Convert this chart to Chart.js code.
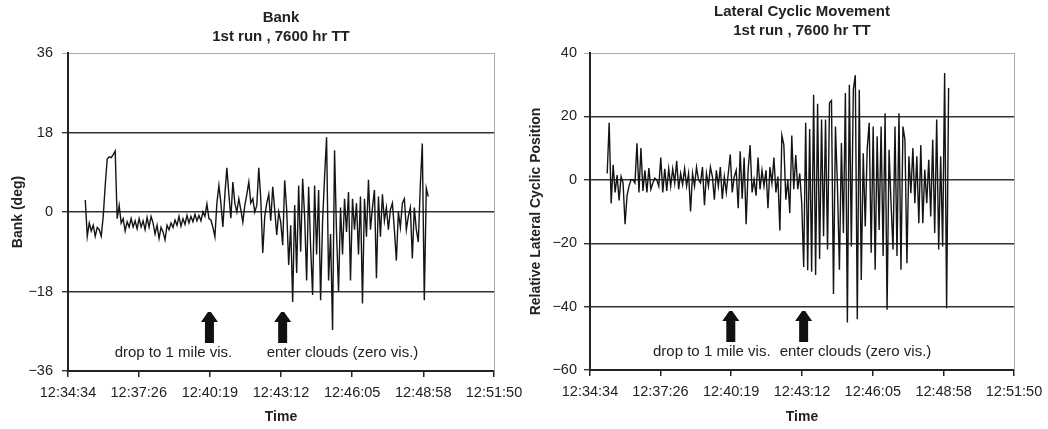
<!DOCTYPE html>
<html>
<head>
<meta charset="utf-8">
<script src="https://cdn.jsdelivr.net/npm/chart.js@4.4.1/dist/chart.umd.min.js"></script>
<style>
  body { margin: 0; background: #fff; }
  .panel { position: absolute; top: 0; width: 524px; height: 429px; }
  #left { left: 0; }
  #right { left: 524px; }
</style>
</head>
<body>
<div class="panel" id="left"><canvas id="bankChart" width="524" height="429"></canvas></div>
<div class="panel" id="right"><canvas id="cyclicChart" width="524" height="429"></canvas></div>
<script>
// time axis tick labels (shared by both panels)
const timeTicks = ['12:34:34', '12:37:26', '12:40:19', '12:43:12', '12:46:05', '12:48:58', '12:51:50'];

// samples start here and are evenly spaced (seconds)
const sampleStart = '12:35:16';
const sampleStep = 4.85;

// bank angle, deg
const bankValues = [
  2.7, -5.5, -2.5, -4.3, -3, -5.5, -3.5, -4, -5.5, -1,
  6, 12, 12.5, 12.3, 13, 13.8, -1.5, 1.5, -2.5, -1.5,
  -4.3, -2.2, -3.4, -1.5, -3.4, -2, -3.8, -1.5, -3.4, -2,
  -4, -1.2, -3.4, -1, -2.5, -5, -3, -6, -3.5, -4.5,
  -6.3, -3, -4, -2.5, -3.5, -1.8, -3, -1, -3.2, -1.5,
  -2.8, -0.8, -2.5, -1, -2.2, -0.5, -2, -0.8, -2, 0,
  -1, 1.8, -1.5, -1.8, -3.5, -5.6, 2, 6, 2, -3.4,
  4, 10, 4, -1.4, 6.8, 2, 0, 3, 0.5, -2.3,
  1.5, 4, 6.8, 2, 3, 0, 1.5, 10, 3, -9.3,
  -1, 2, 4, -2, 5.7, 0.5, -5.2, 0, -2.3, -7.5,
  7.2, 0.5, -12, -3, -20.4, 1.6, -13.8, 6, -9, 7.5,
  -1, -15.5, 5.7, -8, -18.8, 6, -9.6, 5, -20, -2,
  8, 16.9, -15.5, -5, -26.7, 14, -5, -18, 1, -9.6,
  3, -4.5, 4.5, -15.5, 3, -4, 2, -9.6, 3.5, -20.7,
  3, -5.6, 7.3, -4, 1, 5, -15, 3.5, -5.6, 4,
  -2, 1, -4, 0.5, 2, -4, -11, 0, -3.5, 2,
  3, -4, -1, 1, -10.5, 1, -4, -6.8, 6, 15.5,
  -20, 5.4, 3.5
];

// relative lateral cyclic position
const cyclicValues = [
  2, 18, -7.5, 4.7, -4, 1.5, -6.5, 1, -1, -14,
  -5, -2, 0, 0, -1, 11.5, -4, 10, -3.5, 3,
  -4, 3.7, -3, -1, 0.5, 0, -2, 7, -4, 3.5,
  -3.5, 3.5, -2, 3.5, -1, 6, -3, 2, -1.5, 3.5,
  -2, 2, -10, 2, -2, 4, 0, -1, 4, -8,
  2, -2, 4, 1, -6.3, 3, -2, 4, -6, 1,
  -4, 2, 8, -4, 1, 3, -9, 9, -6, 7,
  -14, 3, 11, -4, 0, -5, 7, -3, 3, -2,
  3, -9, 4, -1, 7, -4, 1, -16, 14, 11,
  -6.3, 0, -10.5, 14, -3, 7.8, -3, 2, -7.3, -27.5,
  18, -28.5, 16, -29, 26.8, -30, 24, -25, 19, -17.8,
  19, -22, 24.3, 25, -36, 16.8, -2, -28.4, 11.6, -16.8,
  27.4, -45, 30, -21, 28.4, 33, -44, 28.4, -31.6, 8.4,
  -14.7, 10, 18, -23, 16.8, -28.4, 13.7, -15.8, 16.8, -24,
  21, -41, 9.5, -7.4, -22, 16.8, -24, 21, -28.4, 16.8,
  12.6, -26.3, 7.4, -4.2, 10, -7.4, 7.4, -13.7, 11, -13.7,
  3.2, -7.4, 6.3, -11.6, 12.6, -16.8, 19, -22, 7.4, -21,
  33.7, -40.5, 29
];

const bankYTicks = [-36, -18, 0, 18, 36];
const cyclicYTicks = [-60, -40, -20, 0, 20, 40];

const eventTimes = ['12:40:18', '12:43:16'];
const eventLabels = ['drop to 1 mile vis.', 'enter clouds (zero vis.)'];

const FONT = '"Liberation Sans", Arial, sans-serif';
const INK = '#222';

function toSec(s) {
  const [h, m, sec] = s.split(':').map(Number);
  return h * 3600 + m * 60 + sec;
}
const t0 = toSec(timeTicks[0]);
const tickSecs = timeTicks.map(t => toSec(t) - t0);
const startSec = toSec(sampleStart) - t0;
const toPoints = values => values.map((v, i) => ({ x: startSec + i * sampleStep, y: v }));

function drawArrow(ctx, x, tipY, baseY) {
  ctx.beginPath();
  ctx.moveTo(x - 1.5, tipY);
  ctx.lineTo(x + 1.5, tipY);
  ctx.lineTo(x + 8.5, tipY + 10);
  ctx.lineTo(x + 4.5, tipY + 10);
  ctx.lineTo(x + 4.5, baseY);
  ctx.lineTo(x - 4.5, baseY);
  ctx.lineTo(x - 4.5, tipY + 10);
  ctx.lineTo(x - 8.5, tipY + 10);
  ctx.closePath();
  ctx.fill();
}

const overlay = {
  id: 'overlay',
  afterDraw(chart, args, opts) {
    const { ctx, chartArea, scales } = chart;
    const cx = (chartArea.left + chartArea.right) / 2;
    ctx.save();
    // light right border of the plot
    ctx.strokeStyle = '#aaa';
    ctx.lineWidth = 1;
    ctx.beginPath();
    ctx.moveTo(chartArea.right + 0.5, chartArea.top);
    ctx.lineTo(chartArea.right + 0.5, chartArea.bottom);
    ctx.stroke();

    ctx.fillStyle = INK;
    ctx.textAlign = 'center';
    ctx.textBaseline = 'middle';
    ctx.font = 'bold 15px ' + FONT;
    opts.title.forEach((line, i) => ctx.fillText(line, cx, opts.titleY + i * 19));

    ctx.font = '15px ' + FONT;
    eventTimes.forEach((t, i) => {
      const x = scales.x.getPixelForValue(toSec(t) - t0);
      ctx.fillStyle = '#111';
      drawArrow(ctx, x, chartArea.bottom - 59, chartArea.bottom - 28);
      ctx.fillStyle = INK;
      ctx.textAlign = i === 0 ? 'center' : 'left';
      ctx.fillText(eventLabels[i], x + opts.labelDx[i], chartArea.bottom - 18);
    });
    ctx.restore();
  }
};

function makeChart(id, values, yTicks, yTitle, o) {
  const yMax = yTicks[yTicks.length - 1];
  return new Chart(document.getElementById(id), {
    type: 'line',
    data: {
      datasets: [{
        data: toPoints(values),
        borderColor: '#141414',
        borderWidth: 1.4,
        pointRadius: 0,
        tension: 0,
        fill: false
      }]
    },
    options: {
      responsive: false,
      animation: false,
      devicePixelRatio: 1,
      layout: { padding: { top: 53, right: o.padRight, left: 0, bottom: 0 } },
      plugins: {
        legend: { display: false },
        tooltip: { enabled: false },
        overlay: { title: o.title, titleY: o.titleY, labelDx: o.labelDx }
      },
      scales: {
        x: {
          type: 'linear',
          min: 0,
          max: tickSecs[tickSecs.length - 1],
          afterBuildTicks: s => { s.ticks = tickSecs.map(v => ({ value: v })); },
          afterFit: s => { s.height = o.xHeight; s.paddingLeft = 0; s.paddingRight = 0; },
          ticks: {
            callback: (v, i) => timeTicks[i],
            autoSkip: false,
            maxRotation: 0,
            padding: 7,
            color: INK,
            font: { family: FONT, size: 14.5 }
          },
          grid: { drawOnChartArea: false, drawTicks: true, tickLength: 6, color: INK, lineWidth: 1.5 },
          border: { display: true, color: INK, width: 2 },
          title: {
            display: true,
            text: 'Time',
            color: INK,
            font: { family: FONT, size: 14, weight: 'bold' },
            padding: { top: 0, bottom: 3 }
          }
        },
        y: {
          min: yTicks[0],
          max: yMax,
          afterBuildTicks: s => { s.ticks = yTicks.map(v => ({ value: v })); },
          afterFit: s => { s.width = o.yWidth; },
          ticks: {
            callback: v => (v < 0 ? '\u2212' + Math.abs(v) : String(v)),
            padding: o.yTickPad,
            color: INK,
            font: { family: FONT, size: 14.5 }
          },
          grid: {
            color: c => (c.tick && c.tick.value === yMax ? '#aaa' : '#333'),
            lineWidth: c => (c.tick && c.tick.value === yMax ? 1 : 1.4),
            tickLength: 6
          },
          border: { display: true, color: INK, width: 2 },
          title: {
            display: true,
            text: yTitle,
            color: INK,
            font: { family: FONT, size: 14, weight: 'bold' },
            padding: { top: o.yTitlePad, bottom: 0 }
          }
        }
      }
    },
    plugins: [overlay]
  });
}

makeChart('bankChart', bankValues, bankYTicks, 'Bank (deg)', {
  title: ['Bank', '1st run , 7600 hr TT'],
  titleY: 18,
  labelDx: [-36, -16],
  padRight: 30,
  xHeight: 58,
  yWidth: 68,
  yTickPad: 9,
  yTitlePad: 10
});

makeChart('cyclicChart', cyclicValues, cyclicYTicks, 'Relative Lateral Cyclic Position', {
  title: ['Lateral Cyclic Movement', '1st run , 7600 hr TT'],
  titleY: 12,
  labelDx: [-19, -24],
  padRight: 34,
  xHeight: 59,
  yWidth: 66,
  yTickPad: 7,
  yTitlePad: 4
});
</script>
</body>
</html>
